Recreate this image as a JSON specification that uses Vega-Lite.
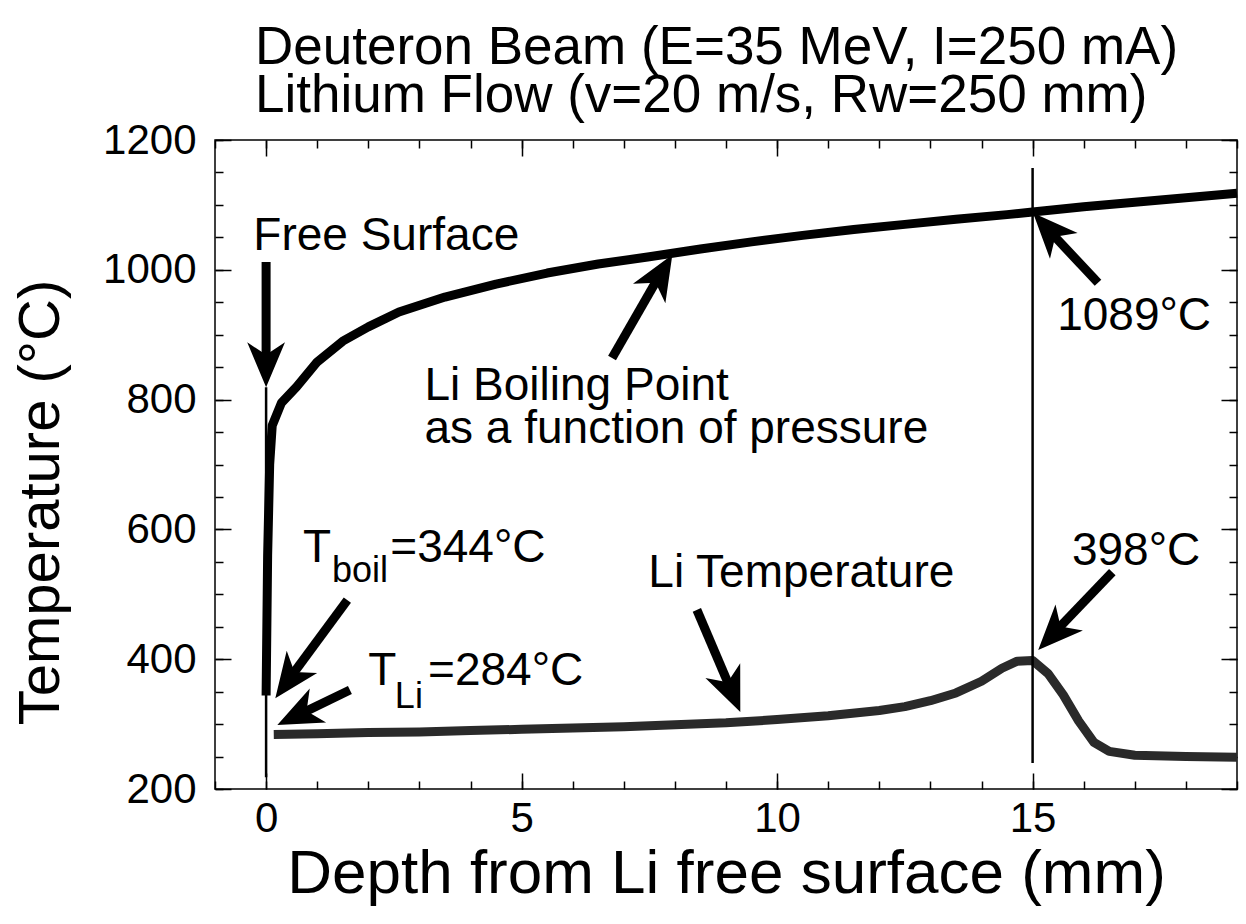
{
  "$schema": "https://vega.github.io/schema/vega-lite/v6.json",
  "width": 1022,
  "height": 649,
  "autosize": {"type": "none"},
  "padding": {"left": 215, "top": 140, "right": 9, "bottom": 135},
  "background": "white",
  "config": {
    "view": {"stroke": "black", "strokeWidth": 1.5},
    "font": "Liberation Sans",
    "axis": {
      "domain": false, "grid": false,
      "labelFont": "Liberation Sans", "labelFontSize": 42, "labelColor": "black",
      "tickColor": "black", "tickWidth": 1.5,
      "titleFont": "Liberation Sans", "titleFontWeight": "normal", "titleColor": "black",
      "labelFlush": false, "labelOverlap": false
    }
  },
  "title": {
    "text": ["Deuteron Beam (E=35 MeV, I=250 mA)", "Lithium Flow (v=20 m/s, Rw=250 mm)"],
    "anchor": "start", "frame": "group", "dx": 40, "dy": 81,
    "fontSize": 53, "font": "Liberation Sans", "fontWeight": "normal", "color": "black",
    "lineHeight": 48, "baseline": "bottom", "offset": 24
  },
  "datasets": {
    "boil": [
      {"depth": 0, "temp": 344}, {"depth": 0.03, "temp": 560}, {"depth": 0.07, "temp": 700},
      {"depth": 0.12, "temp": 760}, {"depth": 0.3, "temp": 795}, {"depth": 0.6, "temp": 820},
      {"depth": 1.0, "temp": 858}, {"depth": 1.5, "temp": 890}, {"depth": 2.0, "temp": 912},
      {"depth": 2.6, "temp": 935}, {"depth": 3.5, "temp": 958}, {"depth": 4.5, "temp": 978},
      {"depth": 5.5, "temp": 995}, {"depth": 6.5, "temp": 1009}, {"depth": 7.5, "temp": 1020},
      {"depth": 8.5, "temp": 1032}, {"depth": 9.5, "temp": 1043}, {"depth": 10.5, "temp": 1053},
      {"depth": 11.5, "temp": 1062}, {"depth": 12.5, "temp": 1070}, {"depth": 13.5, "temp": 1078},
      {"depth": 14.5, "temp": 1085}, {"depth": 15, "temp": 1089}, {"depth": 16, "temp": 1097},
      {"depth": 17, "temp": 1104}, {"depth": 18, "temp": 1111}, {"depth": 19, "temp": 1118}
    ],
    "li": [
      {"depth": 0.15, "temp": 284}, {"depth": 1, "temp": 285}, {"depth": 2, "temp": 287},
      {"depth": 3, "temp": 288}, {"depth": 4, "temp": 290}, {"depth": 5, "temp": 292},
      {"depth": 6, "temp": 294}, {"depth": 7, "temp": 296}, {"depth": 8, "temp": 299},
      {"depth": 9, "temp": 302}, {"depth": 10, "temp": 307}, {"depth": 11, "temp": 313},
      {"depth": 12, "temp": 321}, {"depth": 12.5, "temp": 327}, {"depth": 13, "temp": 336},
      {"depth": 13.5, "temp": 348}, {"depth": 14, "temp": 366}, {"depth": 14.4, "temp": 386},
      {"depth": 14.7, "temp": 397}, {"depth": 15, "temp": 398}, {"depth": 15.3, "temp": 378},
      {"depth": 15.6, "temp": 345}, {"depth": 15.9, "temp": 305}, {"depth": 16.2, "temp": 272},
      {"depth": 16.5, "temp": 258}, {"depth": 17, "temp": 252}, {"depth": 18, "temp": 250},
      {"depth": 19, "temp": 249}
    ],
    "vlines": [
      {"depth": 0, "t1": 218, "t2": 819},
      {"depth": 15, "t1": 240, "t2": 1157}
    ],
    "arrows": [
      {"id": "free", "x1": 0, "y1": 1012, "x2": 0, "y2": 858, "tx": 0, "ty": 819},
      {"id": "boil", "x1": 6.77, "y1": 864, "x2": 7.69, "y2": 990, "tx": 7.95, "ty": 1023},
      {"id": "b1089", "x1": 16.28, "y1": 980, "x2": 15.34, "y2": 1059, "tx": 15.01, "ty": 1087.5},
      {"id": "tboil", "x1": 1.59, "y1": 491, "x2": 0.466, "y2": 371, "tx": 0.18, "ty": 340},
      {"id": "tli", "x1": 1.64, "y1": 352.5, "x2": 0.656, "y2": 315, "tx": 0.22, "ty": 298.6},
      {"id": "litemp", "x1": 8.43, "y1": 476, "x2": 9.09, "y2": 354, "tx": 9.28, "ty": 318.6},
      {"id": "t398", "x1": 16.56, "y1": 534, "x2": 15.44, "y2": 442, "tx": 15.11, "ty": 414}
    ],
    "labels": [
      {"depth": -0.25, "temp": 1030.5, "text": "Free Surface"},
      {"depth": 3.1, "temp": 800, "text": "Li Boiling Point"},
      {"depth": 3.1, "temp": 733, "text": "as a function of pressure"},
      {"depth": 15.48, "temp": 907, "text": "1089°C"},
      {"depth": 7.48, "temp": 511, "text": "Li Temperature"},
      {"depth": 15.77, "temp": 545, "text": "398°C"},
      {"depth": 0.724, "temp": 550, "text": "T"},
      {"depth": 2.43, "temp": 550, "text": "=344°C"},
      {"depth": 2.0, "temp": 360, "text": "T"},
      {"depth": 3.17, "temp": 360, "text": "=284°C"}
    ],
    "subs": [
      {"depth": 1.29, "temp": 519, "text": "boil"},
      {"depth": 2.52, "temp": 325, "text": "Li"}
    ]
  },
  "resolve": {
    "scale": {"x": "shared", "y": "shared"},
    "axis": {"x": "independent", "y": "independent"}
  },
  "layer": [
    {
      "data": {"name": "boil"},
      "mark": {"type": "line", "color": "black", "strokeWidth": 9, "strokeJoin": "round"},
      "encoding": {
        "x": {"field": "depth", "type": "quantitative",
              "scale": {"domain": [-1, 19], "nice": false, "zero": false},
              "axis": {"orient": "bottom", "values": [0, 5, 10, 15], "tickSize": -16, "labelPadding": 25, "format": "d",
                       "title": "Depth from Li free surface (mm)", "titleFontSize": 62, "titlePadding": 4}},
        "y": {"field": "temp", "type": "quantitative",
              "scale": {"domain": [200, 1200], "nice": false, "zero": false},
              "axis": {"orient": "left", "values": [200, 400, 600, 800, 1000, 1200], "tickSize": -16, "labelPadding": 35, "format": "d",
                       "title": "Temperature (°C)", "titleFontSize": 58, "titlePadding": 32, "titleY": 362}}
      }
    },
    {
      "data": {"name": "li"},
      "mark": {"type": "line", "color": "#2a2a2a", "strokeWidth": 9, "strokeJoin": "round"},
      "encoding": {
        "x": {"field": "depth", "type": "quantitative",
              "scale": {"domain": [-1, 19], "nice": false, "zero": false},
              "axis": {"orient": "bottom", "values": [-1, 0, 1, 2, 3, 4, 5, 6, 7, 8, 9, 10, 11, 12, 13, 14, 15, 16, 17, 18, 19],
                       "tickSize": -8, "labels": false, "title": null}},
        "y": {"field": "temp", "type": "quantitative",
              "scale": {"domain": [200, 1200], "nice": false, "zero": false},
              "axis": {"orient": "left", "values": [200, 250, 300, 350, 400, 450, 500, 550, 600, 650, 700, 750, 800, 850, 900, 950, 1000, 1050, 1100, 1150, 1200],
                       "tickSize": -8, "labels": false, "title": null}}
      }
    },
    {
      "data": {"name": "vlines"},
      "mark": {"type": "rule", "color": "black", "strokeWidth": 2.5},
      "encoding": {
        "x": {"field": "depth", "type": "quantitative",
              "scale": {"domain": [-1, 19], "nice": false, "zero": false},
              "axis": {"orient": "top", "values": [0, 5, 10, 15], "tickSize": -16, "labels": false, "title": null}},
        "y": {"field": "t1", "type": "quantitative",
              "scale": {"domain": [200, 1200], "nice": false, "zero": false},
              "axis": {"orient": "right", "values": [200, 400, 600, 800, 1000, 1200], "tickSize": -16, "labels": false, "title": null}},
        "y2": {"field": "t2"}
      }
    },
    {
      "data": {"name": "arrows"},
      "mark": {"type": "rule", "color": "black", "strokeWidth": 9},
      "encoding": {
        "x": {"field": "x1", "type": "quantitative",
              "scale": {"domain": [-1, 19], "nice": false, "zero": false},
              "axis": {"orient": "top", "values": [-1, 0, 1, 2, 3, 4, 5, 6, 7, 8, 9, 10, 11, 12, 13, 14, 15, 16, 17, 18, 19],
                       "tickSize": -8, "labels": false, "title": null}},
        "y": {"field": "y1", "type": "quantitative",
              "scale": {"domain": [200, 1200], "nice": false, "zero": false},
              "axis": {"orient": "right", "values": [200, 250, 300, 350, 400, 450, 500, 550, 600, 650, 700, 750, 800, 850, 900, 950, 1000, 1050, 1100, 1150, 1200],
                       "tickSize": -8, "labels": false, "title": null}},
        "x2": {"field": "x2"},
        "y2": {"field": "y2"}
      }
    },
    {
      "data": {"name": "arrows"}, "transform": [{"filter": "datum.id == 'free'"}],
      "mark": {"type": "point", "shape": "M0,0L-0.42,1L0,0.72L0.42,1Z", "filled": true, "size": 8100, "angle": 180, "color": "black", "opacity": 1},
      "encoding": {
        "x": {"field": "tx", "type": "quantitative", "scale": {"domain": [-1, 19], "nice": false, "zero": false}, "axis": null},
        "y": {"field": "ty", "type": "quantitative", "scale": {"domain": [200, 1200], "nice": false, "zero": false}, "axis": null}
      }
    },
    {
      "data": {"name": "arrows"}, "transform": [{"filter": "datum.id == 'boil'"}],
      "mark": {"type": "point", "shape": "M0,0L-0.42,1L0,0.72L0.42,1Z", "filled": true, "size": 8100, "angle": 31, "color": "black", "opacity": 1},
      "encoding": {
        "x": {"field": "tx", "type": "quantitative", "scale": {"domain": [-1, 19], "nice": false, "zero": false}, "axis": null},
        "y": {"field": "ty", "type": "quantitative", "scale": {"domain": [200, 1200], "nice": false, "zero": false}, "axis": null}
      }
    },
    {
      "data": {"name": "arrows"}, "transform": [{"filter": "datum.id == 'b1089'"}],
      "mark": {"type": "point", "shape": "M0,0L-0.42,1L0,0.72L0.42,1Z", "filled": true, "size": 8100, "angle": 317, "color": "black", "opacity": 1},
      "encoding": {
        "x": {"field": "tx", "type": "quantitative", "scale": {"domain": [-1, 19], "nice": false, "zero": false}, "axis": null},
        "y": {"field": "ty", "type": "quantitative", "scale": {"domain": [200, 1200], "nice": false, "zero": false}, "axis": null}
      }
    },
    {
      "data": {"name": "arrows"}, "transform": [{"filter": "datum.id == 'tboil'"}],
      "mark": {"type": "point", "shape": "M0,0L-0.42,1L0,0.72L0.42,1Z", "filled": true, "size": 8100, "angle": 216.3, "color": "black", "opacity": 1},
      "encoding": {
        "x": {"field": "tx", "type": "quantitative", "scale": {"domain": [-1, 19], "nice": false, "zero": false}, "axis": null},
        "y": {"field": "ty", "type": "quantitative", "scale": {"domain": [200, 1200], "nice": false, "zero": false}, "axis": null}
      }
    },
    {
      "data": {"name": "arrows"}, "transform": [{"filter": "datum.id == 'tli'"}],
      "mark": {"type": "point", "shape": "M0,0L-0.42,1L0,0.72L0.42,1Z", "filled": true, "size": 8100, "angle": 244.4, "color": "black", "opacity": 1},
      "encoding": {
        "x": {"field": "tx", "type": "quantitative", "scale": {"domain": [-1, 19], "nice": false, "zero": false}, "axis": null},
        "y": {"field": "ty", "type": "quantitative", "scale": {"domain": [200, 1200], "nice": false, "zero": false}, "axis": null}
      }
    },
    {
      "data": {"name": "arrows"}, "transform": [{"filter": "datum.id == 'litemp'"}],
      "mark": {"type": "point", "shape": "M0,0L-0.42,1L0,0.72L0.42,1Z", "filled": true, "size": 8100, "angle": 157.1, "color": "black", "opacity": 1},
      "encoding": {
        "x": {"field": "tx", "type": "quantitative", "scale": {"domain": [-1, 19], "nice": false, "zero": false}, "axis": null},
        "y": {"field": "ty", "type": "quantitative", "scale": {"domain": [200, 1200], "nice": false, "zero": false}, "axis": null}
      }
    },
    {
      "data": {"name": "arrows"}, "transform": [{"filter": "datum.id == 't398'"}],
      "mark": {"type": "point", "shape": "M0,0L-0.42,1L0,0.72L0.42,1Z", "filled": true, "size": 8100, "angle": 223.5, "color": "black", "opacity": 1},
      "encoding": {
        "x": {"field": "tx", "type": "quantitative", "scale": {"domain": [-1, 19], "nice": false, "zero": false}, "axis": null},
        "y": {"field": "ty", "type": "quantitative", "scale": {"domain": [200, 1200], "nice": false, "zero": false}, "axis": null}
      }
    },
    {
      "data": {"name": "labels"},
      "mark": {"type": "text", "align": "left", "baseline": "alphabetic", "fontSize": 46, "font": "Liberation Sans", "color": "black"},
      "encoding": {
        "x": {"field": "depth", "type": "quantitative", "scale": {"domain": [-1, 19], "nice": false, "zero": false}, "axis": null},
        "y": {"field": "temp", "type": "quantitative", "scale": {"domain": [200, 1200], "nice": false, "zero": false}, "axis": null},
        "text": {"field": "text"}
      }
    },
    {
      "data": {"name": "subs"},
      "mark": {"type": "text", "align": "left", "baseline": "alphabetic", "fontSize": 36, "font": "Liberation Sans", "color": "black"},
      "encoding": {
        "x": {"field": "depth", "type": "quantitative", "scale": {"domain": [-1, 19], "nice": false, "zero": false}, "axis": null},
        "y": {"field": "temp", "type": "quantitative", "scale": {"domain": [200, 1200], "nice": false, "zero": false}, "axis": null},
        "text": {"field": "text"}
      }
    }
  ]
}
